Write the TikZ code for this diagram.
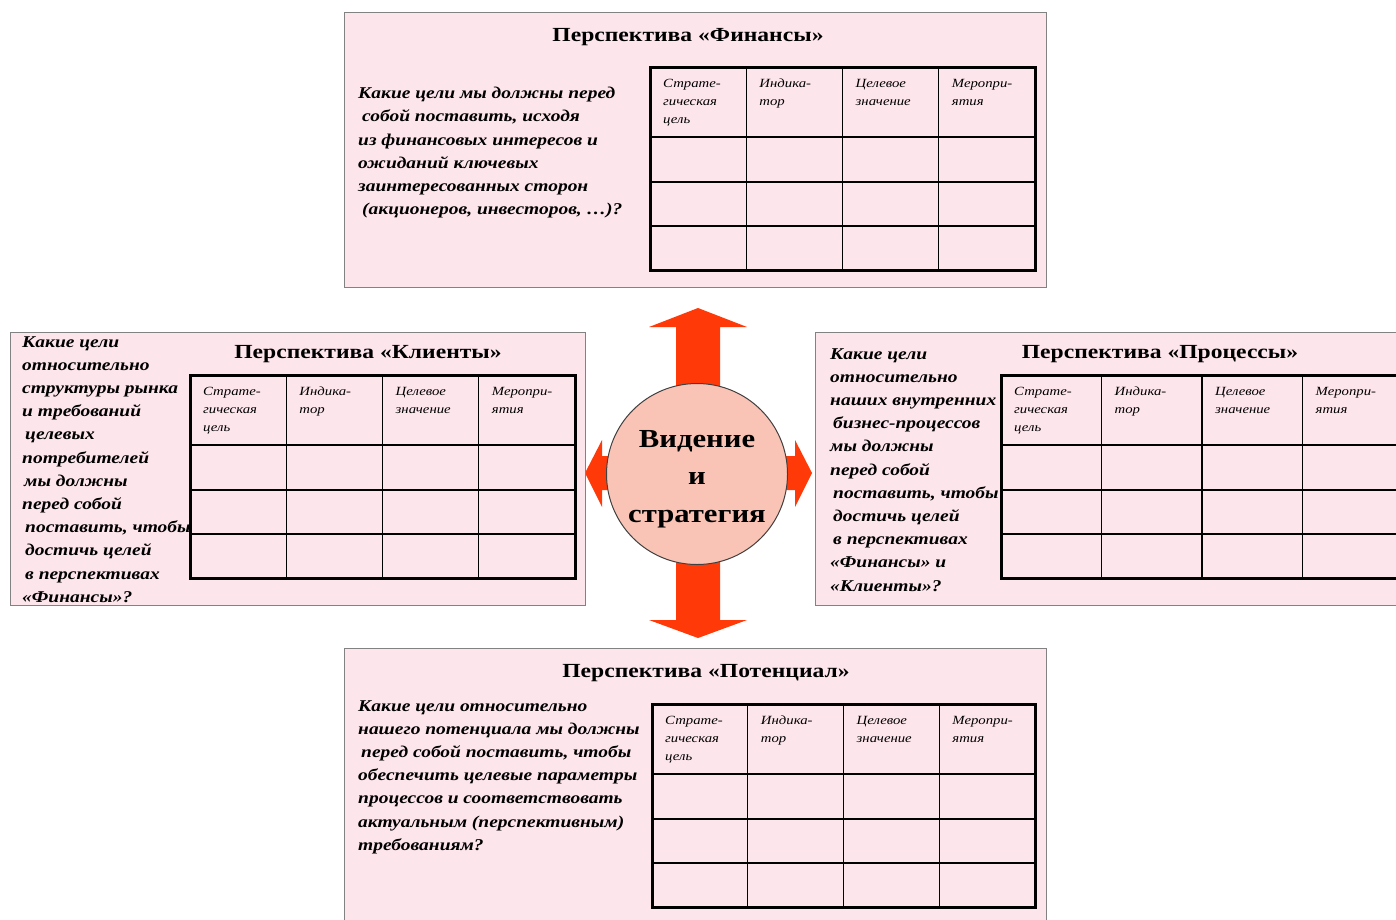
\documentclass[tikz,border=0pt]{standalone}
\usepackage{fontspec}
\setmainfont[FakeStretch=1.18]{Liberation Serif}
\definecolor{boxpink}{RGB}{253,229,236}
\definecolor{arrowred}{RGB}{255,58,8}
\definecolor{circfill}{RGB}{249,196,182}
\definecolor{boxline}{RGB}{130,130,130}
\tikzset{
  persp/.style={draw=boxline, line width=1.3pt, fill=boxpink, anchor=north west, inner sep=0pt},
  ptitle/.style={font=\fontsize{20}{24}\selectfont\bfseries, inner sep=0pt},
  question/.style={font=\fontsize{16.5}{23.2}\selectfont\bfseries\itshape, align=left, anchor=north west, inner sep=0pt},
  hdr/.style={font=\fontsize{12.5}{18}\selectfont\itshape, align=left, anchor=north west, inner sep=0pt},
  tabout/.style={line width=3pt, line join=miter},
  tabin/.style={line width=1.4pt},
  bigarrow/.style={fill=arrowred, draw=none},
  center/.style={circle, draw=black!75, line width=1pt, fill=circfill, minimum size=181pt, inner sep=0pt},
  centertext/.style={font=\fontsize{26}{37.5}\selectfont\bfseries, align=center, inner sep=0pt}
}
\newcommand\bsctable[4]{%
  \begin{scope}[shift={(#2,#3)}]
    \foreach \i in {1,2,3} \draw[tabin] (\i*#4,0) -- (\i*#4,203);
    \foreach \yy in {70,115,159} \draw[tabin] (0,\yy) -- (4*#4,\yy);
    \draw[tabout] (0,0) rectangle (4*#4,203);
    \node[hdr] (#1h1) at (13,12) {Страте-\\гическая\\цель};
    \node[hdr] (#1h2) at (#4+13,12) {Индика-\\тор};
    \node[hdr] (#1h3) at (2*#4+13,12) {Целевое\\значение};
    \node[hdr] (#1h4) at (3*#4+13,12) {Меропри-\\ятия};
  \end{scope}}
\begin{document}
\begin{tikzpicture}[x=1pt,y=-1pt]
\clip (0,0) rectangle (1396,919);
\fill[white] (0,0) rectangle (1396,919);
% block arrows
\fill[bigarrow] (698,308) -- (747,327) -- (720,327) -- (720,620) -- (747,620) -- (698,638)
  -- (649,620) -- (676,620) -- (676,327) -- (649,327) -- cycle;
\fill[bigarrow] (585,473) -- (602,440) -- (602,456) -- (795,456) -- (795,440) -- (812,473)
  -- (795,507) -- (795,490) -- (602,490) -- (602,507) -- cycle;
% boxes
\node[persp, minimum width=702pt, minimum height=275pt] (fin) at (344,12) {};
\node[persp, minimum width=575pt, minimum height=273pt] (cli) at (10,332) {};
\node[persp, minimum width=600pt, minimum height=273pt] (pro) at (815,332) {};
\node[persp, minimum width=702pt, minimum height=290pt] (pot) at (344,648) {};
% titles
\node[ptitle] (fint) at (688,37) {Перспектива «Финансы»};
\node[ptitle] (clit) at (368,354) {Перспектива «Клиенты»};
\node[ptitle] (prot) at (1160,354) {Перспектива «Процессы»};
\node[ptitle] (pott) at (706,673) {Перспектива «Потенциал»};
% tables
\bsctable{fin}{650}{67}{96.25}
\bsctable{cli}{190}{375}{96.25}
\bsctable{pro}{1001}{375}{100.5}
\bsctable{pot}{652}{704}{95.75}
% questions
\node[question] (finq) at (358,87) {Какие цели мы должны перед\\\hspace*{4pt}собой поставить, исходя\\из финансовых интересов и\\ожиданий ключевых\\заинтересованных сторон\\\hspace*{4pt}(акционеров, инвесторов, …)?};
\node[question] (cliq) at (22,336) {Какие цели\\относительно\\структуры рынка\\и требований\\\hspace*{3pt}целевых\\потребителей\\\hspace*{2pt}мы должны\\перед собой\\\hspace*{3pt}поставить, чтобы\\\hspace*{3pt}достичь целей\\\hspace*{3pt}в перспективах\\«Финансы»?};
\node[question] (proq) at (830,348) {Какие цели\\относительно\\наших внутренних\\\hspace*{3pt}бизнес-процессов\\мы должны\\перед собой\\\hspace*{3pt}поставить, чтобы\\\hspace*{3pt}достичь целей\\\hspace*{3pt}в перспективах\\«Финансы» и\\«Клиенты»?};
\node[question] (potq) at (358,700) {Какие цели относительно\\нашего потенциала мы должны\\\hspace*{3pt}перед собой поставить, чтобы\\обеспечить целевые параметры\\процессов и соответствовать\\актуальным (перспективным)\\требованиям?};
% center
\node[center] (vis) at (697,474) {};
\node[centertext] (vistext) at (697,479) {Видение\\и\\стратегия};
\end{tikzpicture}
\end{document}
